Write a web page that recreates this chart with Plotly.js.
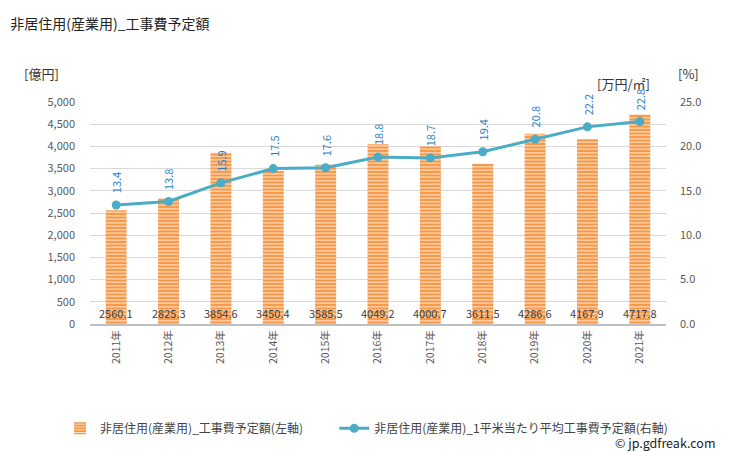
<!DOCTYPE html>
<html><head><meta charset="utf-8">
<script src="https://cdn.plot.ly/plotly-3.0.1.min.js"></script>
<style>body{margin:0;padding:0;background:#fff}#c{width:729px;height:451px}</style>
</head><body><div id="c"></div>
<script>
const years = ["2011年","2012年","2013年","2014年","2015年","2016年","2017年","2018年","2019年","2020年","2021年"];
const amounts = [2560.1, 2825.3, 3854.6, 3450.4, 3585.5, 4049.2, 4000.7, 3611.5, 4286.6, 4167.9, 4717.8];
const unitCost = [13.4, 13.8, 15.9, 17.5, 17.6, 18.8, 18.7, 19.4, 20.8, 22.2, 22.8];
const barName = "非居住用(産業用)_工事費予定額(左軸)";
const lineName = "非居住用(産業用)_1平米当たり平均工事費予定額(右軸)";
const font = "'Noto Sans CJK JP', 'Noto Sans', sans-serif";

const bar = {
  type: 'bar', x: years, y: amounts, name: barName, yaxis: 'y', legend: 'legend',
  marker: {color: '#f79646', line: {width: 0},
    pattern: {shape: '-', fgcolor: '#fde0c4', bgcolor: '#f79646', size: 3.5, solidity: 0.35}},
  hoverinfo: 'skip'
};
const line = {
  type: 'scatter', mode: 'lines+markers', x: years, y: unitCost, name: lineName, yaxis: 'y2', legend: 'legend2',
  line: {color: '#4bacc6', width: 3}, marker: {color: '#4bacc6', size: 9}
};

const annotations = [];
years.forEach((yr, i) => {
  annotations.push({x: yr, y: 0, xref: 'x', yref: 'y', text: amounts[i].toFixed(1), showarrow: false,
    yshift: 11, font: {family: font, size: 11, color: '#404040'}});
  annotations.push({x: yr, y: unitCost[i], xref: 'x', yref: 'y2', text: unitCost[i].toFixed(1), showarrow: false,
    textangle: -90, yshift: 22, font: {family: font, size: 11, color: '#1f7ec8'}});
});
annotations.push({xref: 'paper', yref: 'paper', x: -0.118, y: 1.075, xanchor: 'left', yanchor: 'bottom', text: '[億円]', showarrow: false, font: {family: font, size: 13, color: '#333'}});
annotations.push({xref: 'paper', yref: 'paper', x: 1.018, y: 1.075, xanchor: 'left', yanchor: 'bottom', text: '[%]', showarrow: false, font: {family: font, size: 13, color: '#333'}});
annotations.push({xref: 'paper', yref: 'paper', x: 0.975, y: 1.03, xanchor: 'right', yanchor: 'bottom', text: '[万円/㎡]', showarrow: false, font: {family: font, size: 13, color: '#333'}});
annotations.push({xref: 'paper', yref: 'paper', x: 1.09, y: -0.532, xanchor: 'right', yanchor: 'middle', text: '© jp.gdfreak.com', showarrow: false, font: {family: font, size: 12.5, color: '#222'}});

const legendFont = {family: font, size: 12, color: '#444'};
const layout = {
  width: 729, height: 451,
  margin: {l: 90, r: 63, t: 102, b: 127, autoexpand: false},
  paper_bgcolor: '#fff', plot_bgcolor: '#fff',
  font: {family: font, color: '#595959', size: 11},
  title: {text: '非居住用(産業用)_工事費予定額', x: 0.014, xanchor: 'left', y: 0.957, yanchor: 'top', font: {family: font, size: 14, color: '#222'}},
  showlegend: true,
  legend: {orientation: 'h', x: -0.052, xanchor: 'left', y: -0.47, yanchor: 'middle', font: legendFont, bgcolor: 'rgba(0,0,0,0)'},
  legend2: {orientation: 'h', x: 0.424, xanchor: 'left', y: -0.47, yanchor: 'middle', font: legendFont, bgcolor: 'rgba(0,0,0,0)'},
  bargap: 0.6,
  xaxis: {type: 'category', range: [-0.5, years.length - 0.5], autorange: false, tickangle: -90, tickfont: {size: 10.5, color: '#595959'}, showgrid: false, automargin: false,
    showline: true, linecolor: '#bfbfbf', linewidth: 2, ticks: '', ticklen: 0},
  yaxis: {range: [0, 5000], dtick: 500, tickformat: ',d', showgrid: true, gridcolor: '#d9d9d9', gridwidth: 1, automargin: false,
    zeroline: false, showline: false, ticks: '', tickfont: {size: 11, color: '#595959'}, ticklabelstandoff: 14},
  yaxis2: {range: [0, 25], dtick: 5, tickformat: '.1f', overlaying: 'y', side: 'right', showgrid: false, automargin: false,
    zeroline: false, showline: false, ticks: '', tickfont: {size: 11, color: '#595959'}, ticklabelstandoff: 13},
  annotations: annotations
};
Plotly.newPlot('c', [bar, line], layout, {displayModeBar: false, staticPlot: true});
</script></body></html>
